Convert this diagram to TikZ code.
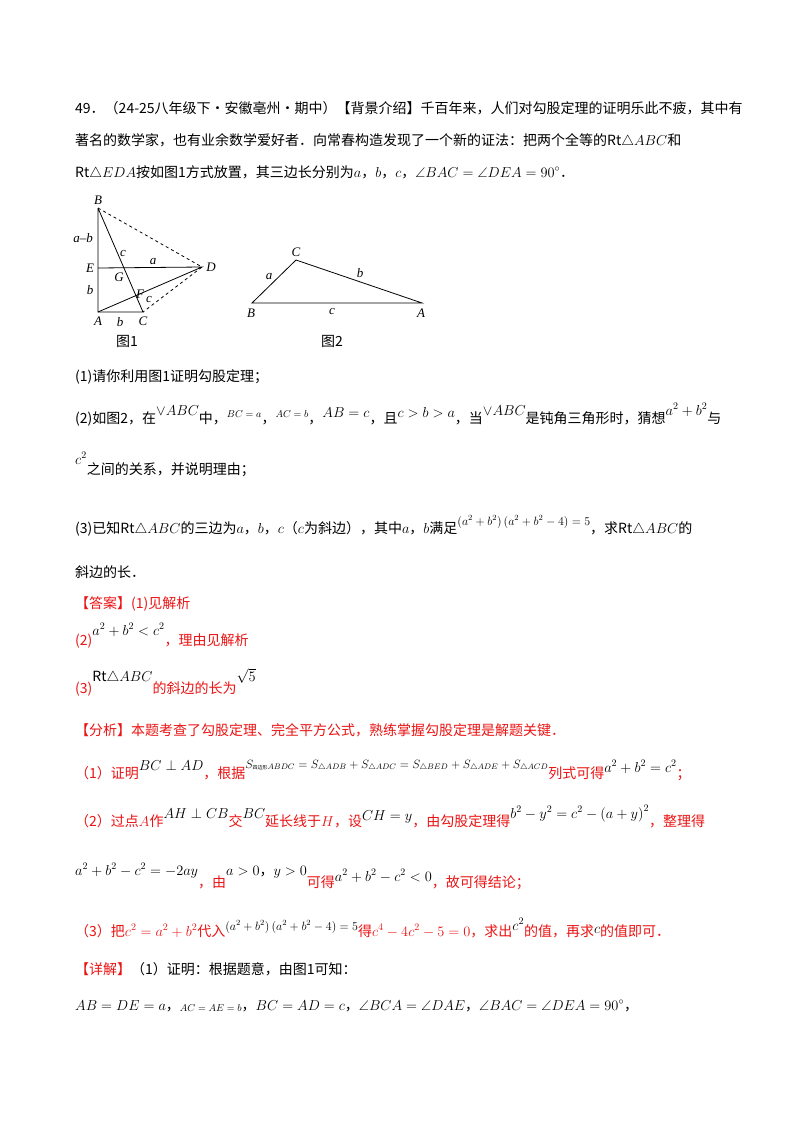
\documentclass[tikz,border=0pt]{standalone}
\usepackage{fontspec}
\usepackage{amsmath,amssymb}
\setmainfont{Liberation Serif}
\newfontfamily\cjk{Noto Sans CJK SC}
\definecolor{ansred}{RGB}{235,20,20}
\newcommand{\smf}{\fontsize{11.5}{13}\selectfont}
\newcommand{\tnf}{\fontsize{10}{12}\selectfont}
\begin{document}
\begin{tikzpicture}[x=1pt,y=-1pt,
  tl/.style={anchor=base west,inner sep=0pt,font=\cjk\fontsize{14}{16}\selectfont},
  rl/.style={tl,text=ansred},
  lab/.style={inner sep=0pt,font=\fontsize{13}{15}\selectfont\itshape},
  fig/.style={line width=0.8pt}]
\useasboundingbox[fill=white] (0,0) rectangle (800,1132);
\node[tl] (l1) at (75,113) {49．（24-25八年级下·安徽亳州·期中）【背景介绍】千百年来，人们对勾股定理的证明乐此不疲，其中有};
\node[tl] (l2) at (75,145) {著名的数学家，也有业余数学爱好者．向常春构造发现了一个新的证法：把两个全等的Rt$\triangle ABC$和};
\node[tl] (l3) at (75,177) {Rt$\triangle EDA$按如图1方式放置，其三边长分别为$a$，$b$，$c$，$\angle BAC=\angle DEA=90^\circ$．};
% figure 1
\coordinate (B) at (98,208); \coordinate (A) at (98,312); \coordinate (C) at (143,312);
\coordinate (D) at (202,267); \coordinate (E) at (98,268);
\draw[fig] (B)--(A)--(C)--(B); \draw[fig] (E)--(D)--(A);
\draw[fig,dashed] (B)--(D)--(C);
\node[lab] (nB) at (98,200) {B}; \node[lab] (nA) at (98,321) {A}; \node[lab] (nC) at (143,321) {C};
\node[lab] (nD) at (211,267) {D}; \node[lab] (nE) at (90,268) {E};
\node[lab] (nG) at (119,277) {G}; \node[lab] (nF) at (140,294) {F};
\node[lab] (t1) at (83,238) {a{\upshape--}b}; \node[lab] (t2) at (123,253) {c};
\node[lab] (t3) at (153,262) {a}; \node[lab] (t4) at (90,290) {b};
\node[lab] (t5) at (149,299) {c}; \node[lab] (t6) at (120,322) {b};
\node[tl,anchor=center] (f1) at (127,341) {图1};
% figure 2
\coordinate (C2) at (296,260); \coordinate (B2) at (252,303); \coordinate (A2) at (422,303);
\draw[fig] (B2)--(C2)--(A2)--cycle;
\node[lab] (nC2) at (296,252) {C}; \node[lab] (nB2) at (251,313) {B}; \node[lab] (nA2) at (421,313) {A};
\node[lab] (s1) at (269,277) {a}; \node[lab] (s2) at (360,273) {b}; \node[lab] (s3) at (332,311) {c};
\node[tl,anchor=center] (f2) at (332,341) {图2};
% questions
\node[tl] (q1) at (75,381) {(1)请你利用图1证明勾股定理；};
\node[tl] (q2) at (75,423) {(2)如图2，在\raisebox{8pt}{$\vee ABC$}中，\raisebox{6pt}{\tnf$BC=a$}，\raisebox{6pt}{\tnf$AC=b$}，\raisebox{6pt}{$AB=c$}，且\raisebox{6pt}{$c>b>a$}，当\raisebox{8pt}{$\vee ABC$}是钝角三角形时，猜想\raisebox{8pt}{$a^2+b^2$}与};
\node[tl] (q2b) at (75,474) {\raisebox{10pt}{$c^2$}之间的关系，并说明理由；};
\node[tl] (q3) at (75,533) {(3)已知Rt$\triangle ABC$的三边为$a$，$b$，$c$（$c$为斜边），其中$a$，$b$满足\raisebox{8pt}{\smf$\left(a^2+b^2\right)\left(a^2+b^2-4\right)=5$}，求Rt$\triangle ABC$的};
\node[tl] (q3b) at (75,577) {斜边的长．};
% answers
\node[rl] (a1) at (75,608) {【答案】(1)见解析};
\node[rl] (a2) at (75,645) {(2)\raisebox{10pt}{\textcolor{black}{$a^2+b^2<c^2$}}，理由见解析};
\node[rl] (a3) at (75,693) {(3)\raisebox{12pt}{\textcolor{black}{Rt$\triangle ABC$}}的斜边的长为\raisebox{12pt}{\textcolor{black}{$\sqrt5$}}};
\node[rl] (an) at (75,735) {【分析】本题考查了勾股定理、完全平方公式，熟练掌握勾股定理是解题关键．};
\node[rl] (an1) at (75,778) {（1）证明\raisebox{8pt}{\textcolor{black}{$BC\perp AD$}}，根据\raisebox{10pt}{\textcolor{black}{\smf$S_{\text{\tiny 四边形}ABDC}=S_{\triangle ADB}+S_{\triangle ADC}=S_{\triangle BED}+S_{\triangle ADE}+S_{\triangle ACD}$}}列式可得\raisebox{6pt}{\textcolor{black}{$a^2+b^2=c^2$}}；};
\node[rl] (an2) at (75,826) {（2）过点$A$作\raisebox{8pt}{\textcolor{black}{$AH\perp CB$}}交\raisebox{8pt}{\textcolor{black}{$BC$}}延长线于$H$，设\raisebox{6pt}{\textcolor{black}{$CH=y$}}，由勾股定理得\raisebox{8pt}{\textcolor{black}{$b^2-y^2=c^2-\left(a+y\right)^2$}}，整理得};
\node[rl] (an3) at (75,887) {\raisebox{12pt}{\textcolor{black}{$a^2+b^2-c^2=-2ay$}}，由\raisebox{12pt}{\textcolor{black}{$a>0$，$y>0$}}可得\raisebox{6pt}{\textcolor{black}{$a^2+b^2-c^2<0$}}，故可得结论；};
\node[rl] (an4) at (75,936) {（3）把$c^2=a^2+b^2$代入\raisebox{6pt}{\textcolor{black}{\smf$\left(a^2+b^2\right)\left(a^2+b^2-4\right)=5$}}得$c^4-4c^2-5=0$，求出\raisebox{6pt}{\textcolor{black}{$c^2$}}的值，再求\raisebox{3pt}{\textcolor{black}{$c$}}的值即可．};
\node[rl] (d0) at (75,974) {【详解】\textcolor{black}{（1）证明：根据题意，由图1可知：}};
\node[tl] (d1) at (75,1010) {$AB=DE=a$，\raisebox{-1pt}{\tnf$AC=AE=b$}，$BC=AD=c$，$\angle BCA=\angle DAE$，$\angle BAC=\angle DEA=90^\circ$，};
\end{tikzpicture}
\end{document}
